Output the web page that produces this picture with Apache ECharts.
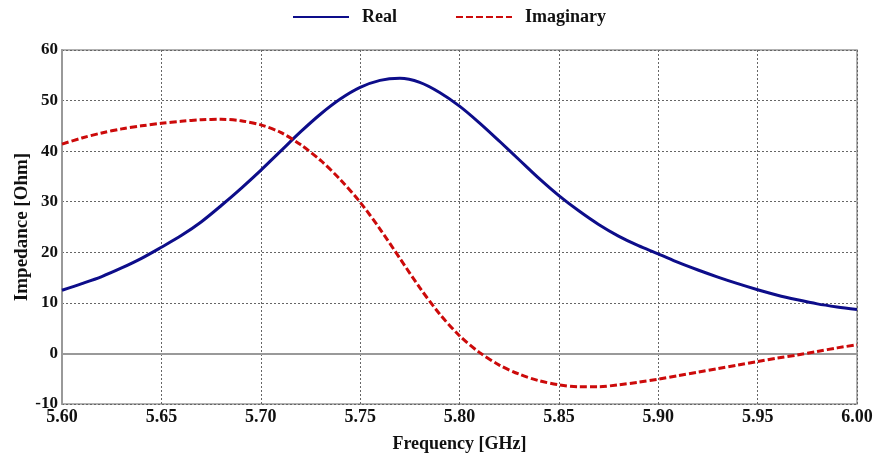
<!DOCTYPE html>
<html>
<head>
<meta charset="utf-8">
<style>
  html, body { margin: 0; padding: 0; background: #fff; }
  #chart { width: 876px; height: 456px; }
</style>
<script src="https://cdn.jsdelivr.net/npm/echarts@6/dist/echarts.min.js"></script>
</head>
<body>
<div id="chart"></div>
<script>
// frequency points, GHz
const freq = [
  5.60, 5.61, 5.62, 5.63, 5.64, 5.65, 5.66, 5.67, 5.68, 5.69,
  5.70, 5.71, 5.72, 5.73, 5.74, 5.75, 5.76, 5.77, 5.78, 5.79,
  5.80, 5.81, 5.82, 5.83, 5.84, 5.85, 5.86, 5.87, 5.88, 5.89,
  5.90, 5.91, 5.92, 5.93, 5.94, 5.95, 5.96, 5.97, 5.98, 5.99, 6.00
]
// real part, Ohm
const realPart = [
  12.5, 13.8, 15.2, 16.9, 18.8, 21.0, 23.3, 26.0, 29.2, 32.6,
  36.2, 40.0, 43.8, 47.3, 50.3, 52.6, 54.0, 54.4, 53.6, 51.6,
  48.9, 45.6, 42.0, 38.3, 34.6, 31.2, 28.2, 25.5, 23.2, 21.3,
  19.7, 18.0, 16.5, 15.1, 13.8, 12.6, 11.5, 10.6, 9.8, 9.2, 8.7
]
// imaginary part, Ohm
const imagPart = [
  41.4, 42.6, 43.6, 44.4, 45.0, 45.5, 45.9, 46.2, 46.3, 46.0,
  45.2, 43.7, 41.3, 38.2, 34.4, 29.9, 24.6, 18.8, 13.0, 7.8,
  3.5, 0.2, -2.3, -4.1, -5.4, -6.2, -6.6, -6.6, -6.2, -5.7,
  -5.1, -4.4, -3.7, -3.0, -2.3, -1.6, -0.9, -0.3, 0.4, 1.1, 1.7
]

const font = '"Liberation Serif", "Times New Roman", serif'

const chart = echarts.init(document.getElementById('chart'))

chart.setOption({
  animation: false,
  backgroundColor: '#fff',
  textStyle: { fontFamily: font },
  legend: {
    top: 3,
    left: 287,
    itemWidth: 56,
    itemHeight: 14,
    itemGap: 58,
    itemStyle: { opacity: 0 },
    textStyle: {
      fontFamily: font, fontWeight: 'bold', fontSize: 18, color: '#111',
      padding: [0, 0, 0, 8],
    },
    data: ['Real', 'Imaginary'],
  },
  grid: {
    left: 62, right: 19, top: 50, bottom: 52,
    outerBoundsMode: 'none',
    containLabel: false,
    show: true,
    borderColor: '#999',
    borderWidth: 1.5,
  },
  xAxis: {
    type: 'value',
    min: 5.6,
    max: 6.0,
    interval: 0.05,
    name: 'Frequency [GHz]',
    nameLocation: 'middle',
    nameGap: 31,
    nameMoveOverlap: false,
    nameTextStyle: { fontFamily: font, fontWeight: 'bold', fontSize: 18, color: '#111' },
    axisLine: { show: true, lineStyle: { color: '#999', width: 2 } },
    axisTick: { show: false },
    axisLabel: {
      fontFamily: font, fontWeight: 'bold', fontSize: 18, color: '#111', margin: 4,
      formatter: v => v.toFixed(2),
    },
    splitLine: { show: true, lineStyle: { color: '#666', width: 1, type: [2, 2] } },
  },
  yAxis: {
    type: 'value',
    min: -10,
    max: 60,
    interval: 10,
    name: 'Impedance [Ohm]',
    nameLocation: 'middle',
    nameGap: 30,
    nameMoveOverlap: false,
    nameTextStyle: { fontFamily: font, fontWeight: 'bold', fontSize: 19, color: '#111' },
    axisLine: { show: true, lineStyle: { color: '#999', width: 2 } },
    axisTick: { show: false },
    axisLabel: { fontFamily: font, fontWeight: 'bold', fontSize: 17, color: '#111', margin: 4 },
    splitLine: { show: true, lineStyle: { color: '#666', width: 1, type: [2, 2] } },
  },
  series: [
    {
      name: 'Real',
      type: 'line',
      symbol: 'none',
      smooth: 0.3,
      data: freq.map((f, i) => [f, realPart[i]]),
      lineStyle: { color: '#0d0d8a', width: 3 },
      itemStyle: { color: '#0d0d8a' },
    },
    {
      name: 'Imaginary',
      type: 'line',
      symbol: 'none',
      smooth: 0.3,
      data: freq.map((f, i) => [f, imagPart[i]]),
      lineStyle: { color: '#cc0a0a', width: 3, type: [7, 3] },
      itemStyle: { color: '#cc0a0a' },
    },
  ],
})
</script>
</body>
</html>
